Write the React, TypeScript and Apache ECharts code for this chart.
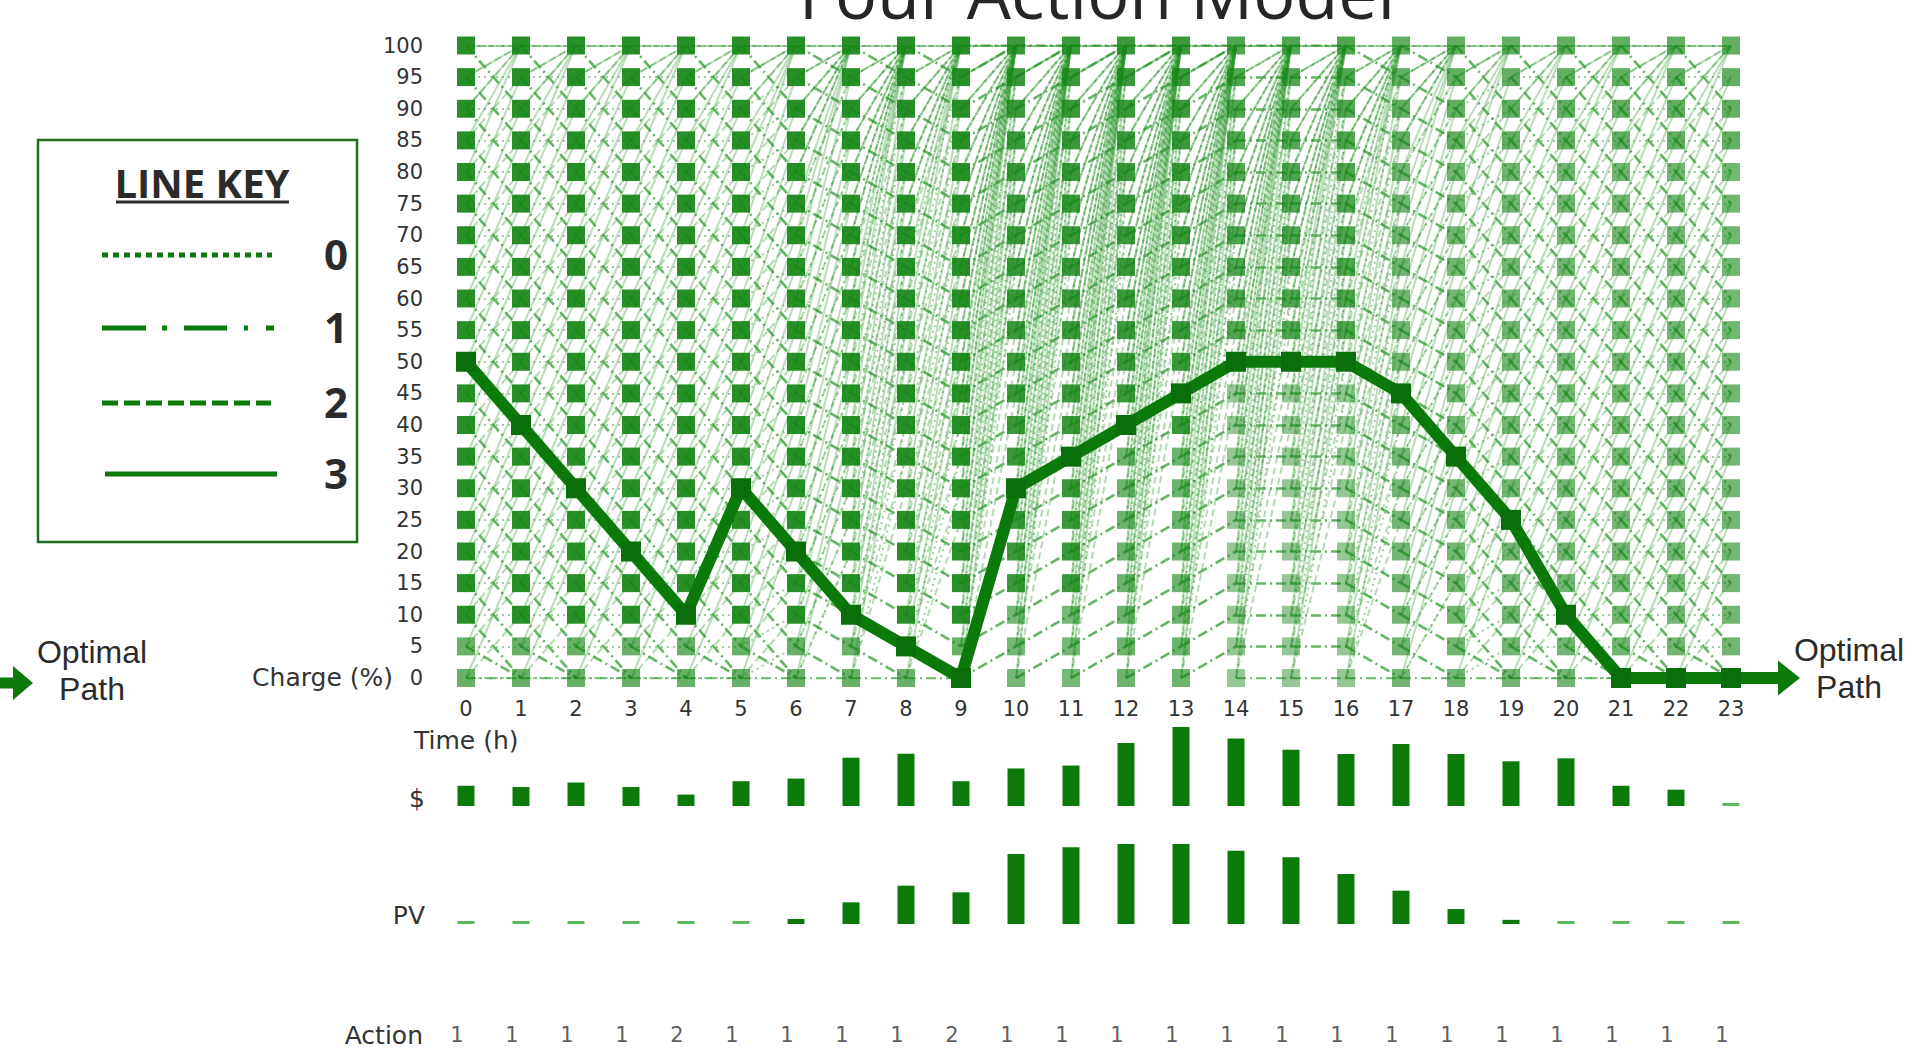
import React, { useEffect, useRef } from "react";
import * as echarts from "echarts";

// Hours of the day (x axis) and battery charge states (y axis, %)
const hours = [0, 1, 2, 3, 4, 5, 6, 7, 8, 9, 10, 11, 12, 13, 14, 15, 16, 17, 18, 19, 20, 21, 22, 23];
const chargeLevels = [0, 5, 10, 15, 20, 25, 30, 35, 40, 45, 50, 55, 60, 65, 70, 75, 80, 85, 90, 95, 100];

// Optimal state of charge per hour
const optimalCharge = [50, 40, 30, 20, 10, 30, 20, 10, 5, 0, 30, 35, 40, 45, 50, 50, 50, 45, 35, 25, 10, 0, 0, 0];

// Electricity price per hour (relative units)
const price = [6.2, 5.8, 7.2, 5.8, 3.5, 7.6, 8.4, 14.8, 16.0, 7.6, 11.5, 12.4, 19.3, 24.2, 20.7, 17.2, 15.9, 19.0, 15.9, 13.7, 14.6, 6.2, 5.0, 0.4];

// PV generation per hour (kW)
const pv = [0, 0, 0, 0, 0, 0, 0.3, 1.3, 2.3, 1.9, 4.2, 4.6, 4.8, 4.8, 4.4, 4.0, 3.0, 2.0, 0.9, 0.25, 0, 0, 0, 0];

// Chosen action per hour
const actions = [1, 1, 1, 1, 2, 1, 1, 1, 1, 2, 1, 1, 1, 1, 1, 1, 1, 1, 1, 1, 1, 1, 1, 1];

// Transition model: charge change of each action = base + gain * PV of the next hour
const actionBase = [0, -10, 10, 20];
const actionPvGain = [15, 3, 8, 12];
const lineKeys = ["0", "1", "2", "3"];

const GREEN = "#0b7a0b";
const TEXT = "#333333";
const MPL_FONT = "DejaVu Sans";
const SLIDE_FONT = "Open Sans";

const actionDash: (number[] | "solid")[] = [[2, 4], [10, 4, 2, 4], [7, 4], "solid"];
const actionOpacity = [0.45, 0.7, 0.35, 0.32];
const actionWidth = [2, 2.6, 2, 2];

function transitionEdges(a: number) {
  const out: { coords: number[][] }[] = [];
  for (let i = 0; i < hours.length - 1; i++) {
    const d = Math.round((actionBase[a] + actionPvGain[a] * pv[i + 1]) / 5) * 5;
    for (const c of chargeLevels) {
      const next = Math.max(0, Math.min(100, c + d));
      out.push({ coords: [[hours[i], c], [hours[i + 1], next]] });
    }
  }
  return out;
}

function nodeAlpha(t: number, c: number) {
  let a = t < 10 ? 0.92 : t < 14 ? 0.84 : t < 17 ? 0.74 : 0.6;
  if (t < 10 && c <= 5) a *= 0.7;
  else if (t >= 10 && t < 12 && c <= 10) a *= 0.7;
  else if (t >= 12 && t < 14 && c <= 35) a *= 0.75;
  else if (t >= 14 && t < 17 && c <= 45) a *= 0.62;
  else if (t >= 17 && c >= 85) a *= 1.12;
  return a;
}

function buildOption(): echarts.EChartsOption {
  const nodes: any[] = [];
  for (const t of hours) {
    for (const c of chargeLevels) {
      nodes.push({ value: [t, c], itemStyle: { opacity: nodeAlpha(t, c) } });
    }
  }
  const edgeSeries: any[] = [0, 1, 2, 3].map((a) => ({
    type: "lines",
    coordinateSystem: "cartesian2d",
    xAxisIndex: 0,
    yAxisIndex: 0,
    silent: true,
    z: 1,
    lineStyle: { color: "#249424", width: actionWidth[a], opacity: actionOpacity[a], type: actionDash[a] },
    data: transitionEdges(a),
  }));

  const lightFor = (threshold: number) => (p: any) => (p.value[1] <= threshold ? "#5cb85c" : GREEN);

  const hiddenX = (i: number) => ({ type: "value", gridIndex: i, min: 0, max: 23, show: false });

  return {
    animation: false,
    grid: [
      { left: 466, right: 198, top: 45.5, bottom: 374 },
      { left: 466, right: 198, top: 724.4, bottom: 246 },
      { left: 466, right: 198, top: 840.7, bottom: 128 },
      { left: 466, right: 198, top: 1025, height: 20 },
    ],
    xAxis: [
      {
        type: "value",
        gridIndex: 0,
        min: 0,
        max: 23,
        interval: 1,
        axisLine: { show: false },
        axisTick: { show: false },
        splitLine: { show: false },
        axisLabel: { margin: 20, fontSize: 21, fontFamily: MPL_FONT, color: TEXT },
      },
      hiddenX(1),
      hiddenX(2),
      hiddenX(3),
    ] as any,
    yAxis: [
      {
        type: "value",
        gridIndex: 0,
        min: 0,
        max: 100,
        interval: 5,
        axisLine: { show: false },
        axisTick: { show: false },
        splitLine: { show: false },
        axisLabel: { margin: 43, fontSize: 21, fontFamily: MPL_FONT, color: TEXT },
      },
      { type: "value", gridIndex: 1, min: 0, max: 25, show: false },
      { type: "value", gridIndex: 2, min: 0, max: 5, show: false },
      { type: "value", gridIndex: 3, min: 0, max: 1, show: false },
    ] as any,
    series: [
      ...edgeSeries,
      {
        type: "scatter",
        xAxisIndex: 0,
        yAxisIndex: 0,
        symbol: "rect",
        symbolSize: 18,
        silent: true,
        z: 2,
        itemStyle: { color: "rgb(22,134,22)" },
        data: nodes,
      },
      {
        type: "line",
        xAxisIndex: 0,
        yAxisIndex: 0,
        z: 3,
        symbol: "rect",
        symbolSize: 20,
        lineStyle: { color: GREEN, width: 12 },
        itemStyle: { color: "#0a6f0a" },
        data: hours.map((t, i) => [t, optimalCharge[i]]),
      },
      {
        type: "bar",
        xAxisIndex: 1,
        yAxisIndex: 1,
        barWidth: 17,
        barMinHeight: 3,
        itemStyle: { color: lightFor(0.5) as any },
        data: hours.map((t, i) => [t, price[i]]),
      },
      {
        type: "bar",
        xAxisIndex: 2,
        yAxisIndex: 2,
        barWidth: 17,
        barMinHeight: 3,
        itemStyle: { color: lightFor(0.01) as any },
        data: hours.map((t, i) => [t, pv[i]]),
      },
      {
        type: "scatter",
        xAxisIndex: 3,
        yAxisIndex: 3,
        symbolSize: 0,
        label: {
          show: true,
          position: "inside",
          offset: [-9, 0],
          fontSize: 21,
          fontFamily: MPL_FONT,
          color: TEXT,
          formatter: (p: any) => String(p.value[2]),
        },
        data: hours.map((t, i) => [t, 0.5, actions[i]]),
      },
    ],
  };
}

function txt(text: string, x: number, y: number, size: number, opts: any = {}) {
  return {
    type: "text",
    x,
    y,
    silent: true,
    style: {
      text,
      fontSize: size,
      fontFamily: opts.family || SLIDE_FONT,
      fontWeight: opts.weight || "normal",
      fill: opts.fill || "#2b2b2b",
      align: opts.align || "center",
      verticalAlign: "middle",
      lineHeight: opts.lineHeight,
    },
  };
}

function buildGraphics(xEnd: number, yZero: number) {
  const keyY = [255, 328, 403, 474];
  const keyDash: (number[] | null)[] = [[6, 5], [44, 16, 5, 17, 43, 17, 4, 18, 8, 20], [16, 6], null];
  const keyX0 = [102, 102, 102, 105];
  const keyX1 = [272, 274, 271, 277];
  const g: any[] = [
    txt("Four Action Model", 1097, -8, 70, { fill: "#262626" }),
    {
      type: "rect",
      shape: { x: 38, y: 140, width: 319, height: 402 },
      style: { fill: "none", stroke: "#1e6e1e", lineWidth: 2.5 },
      silent: true,
    },
    txt("LINE KEY", 202, 182, 40, { weight: "bold" }),
    {
      type: "line",
      shape: { x1: 116, y1: 202, x2: 289, y2: 202 },
      style: { stroke: "#2b2b2b", lineWidth: 3 },
      silent: true,
    },
  ];
  lineKeys.forEach((k, i) => {
    g.push({
      type: "line",
      shape: { x1: keyX0[i], y1: keyY[i], x2: keyX1[i], y2: keyY[i] },
      style: { stroke: GREEN, lineWidth: 5, lineDash: keyDash[i] || undefined },
      silent: true,
    });
    g.push(txt(k, 336, keyY[i] - 2, 42, { weight: "bold" }));
  });

  // Optimal path arrows on both sides
  g.push(
    { type: "rect", shape: { x: 0, y: yZero + 5 - 5.5, width: 14, height: 11 }, style: { fill: GREEN }, silent: true },
    { type: "polygon", shape: { points: [[13, yZero + 5 - 17], [33, yZero + 5], [13, yZero + 5 + 17]] }, style: { fill: GREEN }, silent: true },
    { type: "rect", shape: { x: xEnd, y: yZero - 6, width: 49, height: 12 }, style: { fill: GREEN }, silent: true },
    { type: "polygon", shape: { points: [[1778, yZero - 17.5], [1800, yZero], [1778, yZero + 17.5]] }, style: { fill: GREEN }, silent: true },
    txt("Optimal\nPath", 92, 670, 32, { lineHeight: 37, family: "Liberation Sans" }),
    txt("Optimal\nPath", 1849, 668, 32, { lineHeight: 37, family: "Liberation Sans" })
  );

  // Axis and row titles
  g.push(
    txt("Charge (%)", 393, 677, 25, { family: MPL_FONT, align: "right", fill: TEXT }),
    txt("Time (h)", 414, 740, 25, { family: MPL_FONT, align: "left", fill: TEXT }),
    txt("$", 425, 798, 25, { family: MPL_FONT, align: "right", fill: TEXT }),
    txt("PV", 425, 915, 25, { family: MPL_FONT, align: "right", fill: TEXT }),
    txt("Action", 423, 1035, 25, { family: MPL_FONT, align: "right", fill: TEXT })
  );
  return g;
}

export default function App() {
  const ref = useRef<HTMLDivElement>(null);
  useEffect(() => {
    if (!ref.current) return;
    const chart = echarts.init(ref.current, null, { renderer: "svg" });
    chart.setOption(buildOption());
    const end = chart.convertToPixel({ gridIndex: 0 }, [hours[hours.length - 1], 0]) as number[];
    chart.setOption({ graphic: buildGraphics(end[0], end[1]) });
    return () => chart.dispose();
  }, []);
  return (
    <div
      ref={ref}
      style={{ position: "fixed", left: 0, top: 0, width: 1929, height: 1052, background: "#ffffff" }}
    />
  );
}
